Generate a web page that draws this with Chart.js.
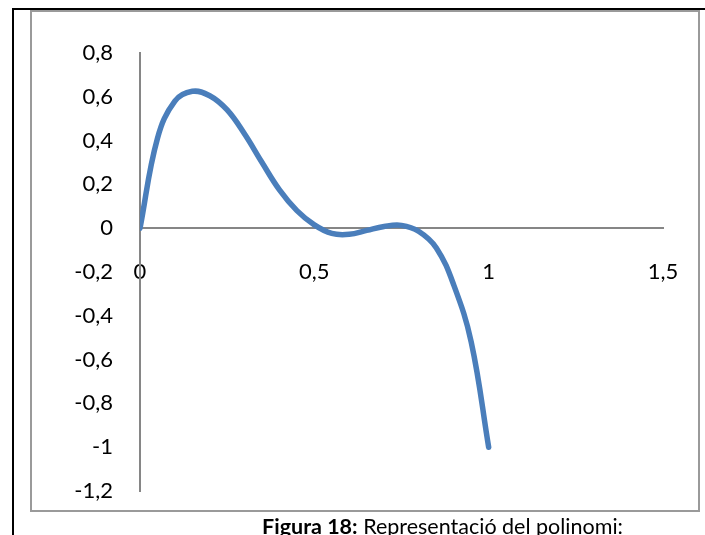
<!DOCTYPE html>
<html>
<head>
<meta charset="utf-8">
<script src="https://cdn.jsdelivr.net/npm/chart.js@4/dist/chart.umd.min.js"></script>
<style>
  html, body { margin: 0; padding: 0; background: #fff; }
  #wrap { position: relative; width: 705px; height: 535px; overflow: hidden; }
  #chartBox { position: absolute; left: 0; top: 0; width: 705px; height: 535px; }
  .line { position: absolute; }
  #caption {
    position: absolute; left: 180px; width: 525px; top: 513px;
    text-align: center; font-family: Lato, sans-serif; font-size: 21.5px; color: #000;
    white-space: nowrap;
  }
</style>
</head>
<body>
<div id="wrap">
  <div class="line" style="left:12px;top:8px;width:693px;height:2px;background:#000"></div>
  <div class="line" style="left:12px;top:8px;width:2px;height:527px;background:#000"></div>
  <div class="line" style="left:30px;top:10px;width:666px;height:498px;border:2px solid #9a9a9a"></div>
  <div id="chartBox"><canvas id="polyChart"></canvas></div>
  <div id="caption"><b>Figura 18:</b> Representació del polinomi:</div>
</div>
<script>
// curve, every 0.05
const xValues = [0, 0.05, 0.1, 0.15, 0.2, 0.25, 0.3, 0.35, 0.4, 0.45, 0.5,
                 0.55, 0.6, 0.65, 0.7, 0.75, 0.8, 0.85, 0.9, 0.95, 1];
const yValues = [0, 0.41, 0.58, 0.625, 0.605, 0.54, 0.43, 0.30, 0.175, 0.08, 0.015,
                 -0.024, -0.028, -0.01, 0.008, 0.013, -0.015, -0.09, -0.26, -0.52, -1];
const xTicks = [0, 0.5, 1, 1.5];
const yTicks = [-1.2, -1, -0.8, -0.6, -0.4, -0.2, 0, 0.2, 0.4, 0.6, 0.8];

const points = xValues.map((x, i) => ({ x: x, y: yValues[i] }));
const fmt = v => String(Math.round(v * 10) / 10).replace('.', ',');
const axisColor = '#868686';
const tickFont = { family: 'Lato', size: 22 };

const chart = new Chart(document.getElementById('polyChart'), {
    type: 'scatter',
    data: {
        datasets: [{
            data: points,
            showLine: true,
            borderColor: '#4a7ebb',
            borderWidth: 5.5,
            borderCapStyle: 'round',
            borderJoinStyle: 'round',
            pointRadius: 0,
            tension: 0.4
        }]
    },
    options: {
        responsive: true,
        maintainAspectRatio: false,
        animation: false,
        layout: { padding: { left: 0, right: 42, top: 53, bottom: 44 } },
        plugins: { legend: { display: false }, tooltip: { enabled: false } },
        scales: {
            x: {
                type: 'linear',
                position: { y: 0 },
                min: 0,
                max: 1.5,
                afterBuildTicks: s => { s.ticks = xTicks.map(v => ({ value: v })); },
                ticks: { font: tickFont, color: '#000', padding: 23, maxRotation: 0, callback: fmt },
                grid: { display: false },
                border: { display: true, color: axisColor, width: 2 }
            },
            y: {
                type: 'linear',
                position: 'left',
                min: -1.2,
                max: 0.8,
                afterBuildTicks: s => { s.ticks = yTicks.map(v => ({ value: v })); },
                afterFit: s => { s.width = 140; },
                ticks: { font: tickFont, color: '#000', padding: 19, callback: fmt },
                grid: { display: false },
                border: { display: true, color: axisColor, width: 2 }
            }
        }
    }
});
</script>
</body>
</html>
